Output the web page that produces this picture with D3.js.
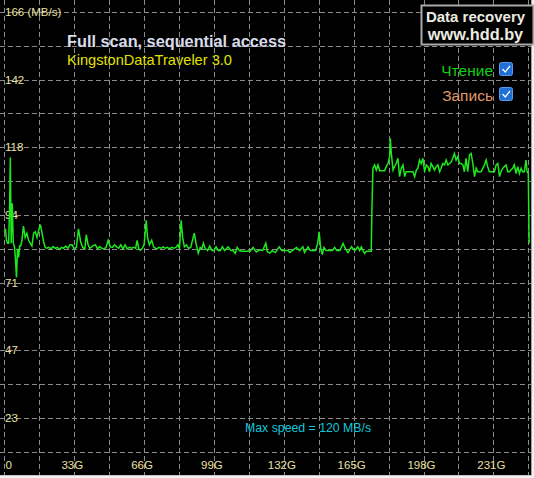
<!DOCTYPE html>
<html>
<head>
<meta charset="utf-8">
<script src="https://cdn.jsdelivr.net/npm/d3@7"></script>
<style>
  html, body { margin: 0; padding: 0; background: #f0f0f0; }
  svg { display: block; }
</style>
</head>
<body>
<script>
// ---------- data ----------
const positionGb = [
  0,0.5,1,1.5,2,2.5,2.8,3.2,3.7,4.2,
  4.7,5.2,5.7,6.2,6.7,7.2,7.7,8.3,9,9.8,
  10.6,11.4,12.2,13,13.8,14.6,15.4,16.2,17,17.8,
  18.5,19.3,
  20,21,22,23,24,25,26,27,28,29,
  30,31,32,33,34,35,36,37,38,38.7,
  39.5,40.3,41,42,43,44,45,46,47,48,
  49,50,51,52,53,54,55,56,57,58,
  59,60,61,62,62.7,63.5,64.2,65,66,67,
  67.6,68.5,69.6,70.5,71.3,72,73,74,75,76,
  77,78,79,80,81,82,82.7,83.5,84.2,85,
  86,87,88,89.7,90.5,91.6,92.5,93.3,94,94.8,
  96,97,98,99,100,101,102,103,104,105.7,
  107,108,109,110,111,112,113,114,115,116,
  117.5,119,120,121,122,123.5,124.2,125.4,126.5,128,
  129.8,131,132,133,134,134.8,136,138,139.5,141,
  141.8,143.5,144.5,146,147,148,148.7,149.4,150.2,151,
  152,153,154,155,156,157,158.5,160,160.8,162.3,
  164,165.5,167,167.8,168.6,169.4,170.2,171,172,173.3,
  173.6,174.1,174.9,175.7,176.5,177.3,178.1,178.8,179.6,180.4,
  181.2,182.0,182.3,182.8,183.6,184.3,185.1,185.9,186.7,187.5,
  188.3,189.1,189.8,190.6,191.4,192.2,193.0,193.8,194.6,195.3,
  196.1,196.9,197.7,198.5,199.3,200.1,200.8,201.6,202.4,203.2,
  204.0,204.8,205.6,206.3,207.1,207.9,208.7,209.5,210.3,211.1,
  211.8,212.6,213.4,214.2,215.0,215.8,216.6,217.3,218.1,218.9,
  219.7,220.5,221.3,222.1,222.9,223.6,224.4,225.2,226.0,226.8,
  227.6,228.3,229.1,229.9,230.7,231.5,232.3,233.1,233.9,234.6,
  235.4,236.2,237.0,237.8,238.6,239.3,240.1,240.9,241.7,242.5,
  243.3,244.1,244.8,245.6,246.4,246.9,247.5,247.9
];
const speedMbps = [
  89,90,86,85,85,99,115,85,99,85,
  84,80,73,83,80,84,84,86,91,87,
  88.5,86,85,84,88.5,89,87,89.5,91.5,88.5,
  85.5,83.5,
  83.2,83.5,83,83.8,83.2,83.5,82.8,83.5,83.2,84,
  83.2,84.4,84.4,83,83.5,90,85.5,83.5,83,88,
  84.5,83.2,83.5,84.2,84.4,83,83.8,83.2,83,83.5,
  86,83.7,83.5,84.4,83.7,83.2,84.4,83,84.4,83,
  83.5,83.2,83.5,83.2,86,83,82.5,83,84.4,93,
  87,84.4,86,83.7,83.2,83,83.5,83.2,83.7,83.2,
  83.5,83,83.5,83.2,83.5,84.4,83,93,87,83.7,
  84.4,83.2,83.5,88.5,85,81.5,83.5,83,85,83.2,
  82.4,84,82.4,82.4,83.7,82.4,82.4,83.7,82.4,83.7,
  82.4,82.4,81.4,83.5,82.4,82.2,82.2,82.2,82.2,82.2,
  83.5,81.9,82.4,82.7,82.4,85,82,81.5,82.4,81.7,
  83.7,82.4,82.4,82.4,82.4,81.7,82.4,83.5,82.4,83.7,
  81.7,83.7,82.4,82.4,82.4,84.9,89,83.2,81,83.5,
  82.4,82.4,82.4,82.4,83.5,82.4,82.4,84.9,83.5,81.7,
  83.7,82.4,83.7,82.4,83.7,82.4,81.4,82.2,82.2,82.2,
  96.2,111.2,112.4,110.6,112.4,110.4,110.4,110.4,110.4,111.8,
  112.9,115.3,121.7,116.4,110.6,111.8,112.9,114.7,108.3,111.2,
  112.4,108.3,110,110,110,110,110,108.3,110.6,111.2,
  114.1,112.9,114.7,110,112.4,111.8,110,112.9,111.8,110.6,
  111.8,112.4,110,111.2,112.9,112.4,114.1,112.4,112.9,113.5,
  114.7,116.4,114.1,115.3,112.9,112.9,112.4,110,114.7,110,
  115.8,116.4,112.9,108.3,111.2,110,110,110,111.2,112.4,
  114.1,111.8,110,110,110,110,112.4,112.9,108.3,110,
  111.2,111.8,112.4,110,110,110.6,111.2,112.4,109.4,111.8,
  109.4,111.2,110,110,114.1,110,109.4,85
];
const yMaxMbps = 166;
const yLabelTicks = [23.71, 47.43, 71.14, 94.86, 118.57, 142.29, 166];
const yTickLabels = ["23", "47", "71", "94", "118", "142", "166 (MB/s)"];
const xTickValues = [0, 33, 66, 99, 132, 165, 198, 231];
const xTickLabels = ["0", "33G", "66G", "99G", "132G", "165G", "198G", "231G"];
const xGridStep = 16.5;
const xMaxGb = 247.5;
const title = "Full scan, sequential access";
const subtitle = "KingstonDataTraveler 3.0";
const legendLabels = ["Чтение", "Запись"];
const maxSpeedText = "Max speed = 120 MB/s";
const brandLines = ["Data recovery", "www.hdd.by"];

// ---------- drawing ----------
const W = 534, H = 478;
const svg = d3.select("body").append("svg").attr("width", W).attr("height", H);

svg.append("rect").attr("x", 0).attr("y", 0).attr("width", 531).attr("height", 475).attr("fill", "#000");
svg.append("line").attr("x1", 531.5).attr("x2", 531.5).attr("y1", 0).attr("y2", 476).attr("stroke", "#a0a0a0");
svg.append("line").attr("x1", 0).attr("x2", 532).attr("y1", 475.5).attr("y2", 475.5).attr("stroke", "#c8c8c8");

svg.append("clipPath").attr("id", "clip").append("rect")
  .attr("x", 0).attr("y", 0).attr("width", 531).attr("height", 475);

const g = svg.append("g").attr("clip-path", "url(#clip)");

const x = d3.scaleLinear().domain([0, xMaxGb]).range([4.4, 528.3]);
const y = d3.scaleLinear().domain([0, yMaxMbps]).range([485.8, 11.9]);

const gridColor = "#8a8a8a";
// horizontal grid (every half label step)
const hGrid = d3.range(1, 15).map(i => yMaxMbps * i / 14);
g.selectAll("line.hg").data(hGrid).join("line")
  .attr("class", "hg")
  .attr("x1", 0).attr("x2", 531)
  .attr("y1", d => Math.round(y(d)) + 0.5).attr("y2", d => Math.round(y(d)) + 0.5)
  .attr("stroke", gridColor).attr("stroke-dasharray", "5,3");
// vertical grid
const vGrid = d3.range(0, xMaxGb + 0.01, xGridStep);
g.selectAll("line.vg").data(vGrid).join("line")
  .attr("class", "vg")
  .attr("y1", 0).attr("y2", 475)
  .attr("x1", d => Math.round(x(d)) + 0.5).attr("x2", d => Math.round(x(d)) + 0.5)
  .attr("stroke", gridColor).attr("stroke-dasharray", "5,3");

const labelColor = "#ece0a4";
const font = "'Liberation Sans', Arial, sans-serif";

// y labels
g.selectAll("text.yl").data(yLabelTicks).join("text")
  .attr("class", "yl")
  .attr("x", 5).attr("y", d => y(d) + 4)
  .attr("fill", labelColor).attr("font-family", font).attr("font-size", 11.5)
  .text((d, i) => yTickLabels[i]);

// x labels
g.selectAll("text.xl").data(xTickValues).join("text")
  .attr("class", "xl")
  .attr("x", d => d === 0 ? x(d) + 1 : x(d) - 2)
  .attr("y", 469)
  .attr("text-anchor", d => d === 0 ? "start" : "middle")
  .attr("fill", labelColor).attr("font-family", font).attr("font-size", 11.5)
  .text((d, i) => xTickLabels[i]);

// data line
const pts = positionGb.map((p, i) => [p, speedMbps[i]]);
const line = d3.line().x(d => x(d[0])).y(d => y(d[1]));
g.append("path").datum(pts)
  .attr("d", line)
  .attr("fill", "none").attr("stroke", "#1ee81e").attr("stroke-width", 1.5)
  .attr("stroke-linejoin", "miter");

// title
svg.append("text").attr("x", 67).attr("y", 47)
  .attr("fill", "#d8dcea").attr("font-family", font).attr("font-weight", "bold").attr("font-size", 16.3)
  .text(title);
svg.append("text").attr("x", 67).attr("y", 65)
  .attr("fill", "#e2e200").attr("font-family", font).attr("font-size", 14.6)
  .text(subtitle);

// max speed
svg.append("text").attr("x", 245).attr("y", 432)
  .attr("fill", "#10c8dc").attr("font-family", font).attr("font-size", 12.3)
  .text(maxSpeedText);

// brand box
svg.append("rect").attr("x", 421.5).attr("y", 5.5).attr("width", 112).attr("height", 39)
  .attr("fill", "#000").attr("stroke", "#a8a8a8").attr("stroke-width", 2);
svg.selectAll("text.brand").data(brandLines).join("text")
  .attr("class", "brand")
  .attr("x", 475.5).attr("y", (d, i) => 22 + i * 18)
  .attr("text-anchor", "middle")
  .attr("fill", "#ecebe2").attr("font-family", font).attr("font-weight", "bold")
  .attr("font-size", (d, i) => i === 0 ? 15 : 16.3)
  .text(d => d);

// legend
const legendColors = ["#10d010", "#e09a6a"];
const lg = svg.selectAll("g.leg").data(legendLabels).join("g")
  .attr("class", "leg")
  .attr("transform", (d, i) => `translate(0, ${i * 25})`);
lg.append("text").attr("x", 493).attr("y", 76)
  .attr("text-anchor", "end")
  .attr("fill", (d, i) => legendColors[i]).attr("font-family", font).attr("font-size", 15.5)
  .text(d => d);
lg.append("rect").attr("x", 499.5).attr("y", 62.5).attr("width", 13).attr("height", 13)
  .attr("rx", 2).attr("fill", "#1f6fd6").attr("stroke", "#5c9be8").attr("stroke-width", 1);
lg.append("path").attr("d", "M502.5,69 L505.3,72 L510,66")
  .attr("fill", "none").attr("stroke", "#ffffff").attr("stroke-width", 1.3);
</script>
</body>
</html>
